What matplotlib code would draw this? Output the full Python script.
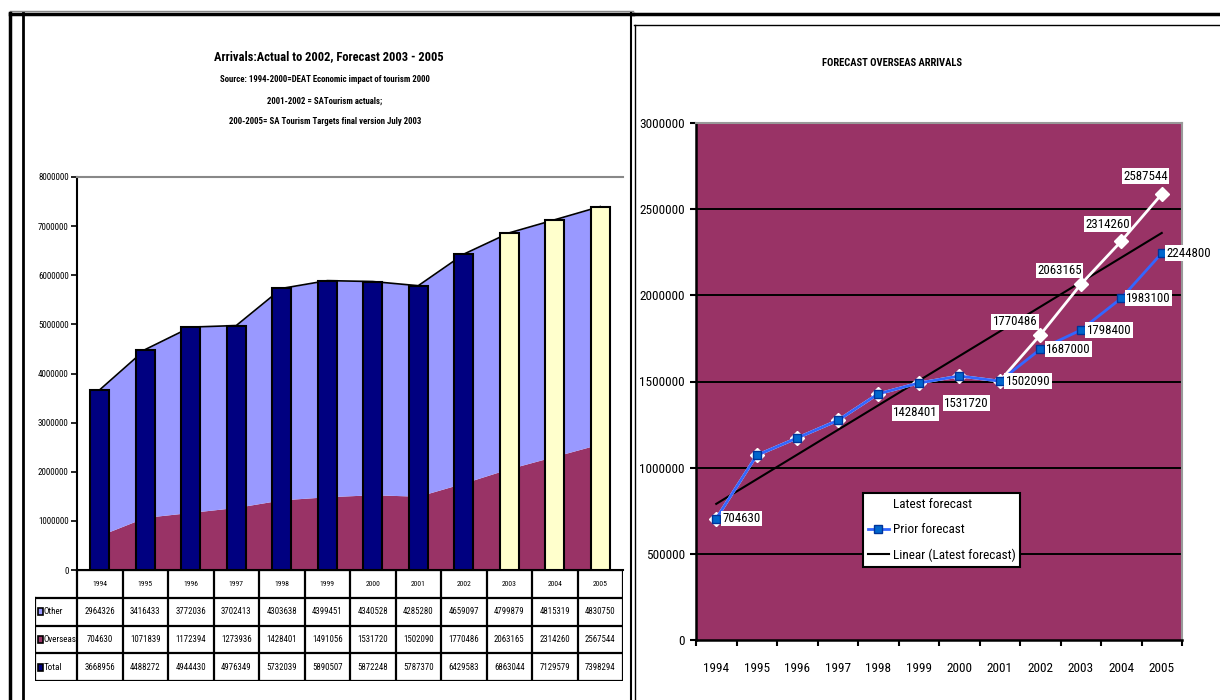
import matplotlib
matplotlib.use("Agg")
import matplotlib.pyplot as plt
import numpy as np
from matplotlib import font_manager
from matplotlib.lines import Line2D
from matplotlib.patches import Rectangle


def narrow_font():
    """Return (family, stretch) of the narrowest sans face available."""
    entries = font_manager.fontManager.ttflist
    names = {e.name for e in entries}
    for fam in ("Liberation Sans Narrow", "Arial Narrow", "Roboto Condensed",
                "Open Sans Condensed", "DejaVu Sans Condensed"):
        if fam in names:
            return fam, "normal"
    for e in entries:
        if e.name == "DejaVu Sans" and "Condensed" in e.fname:
            return "DejaVu Sans", "condensed"
    for e in entries:
        if "Condensed" in e.fname or "Narrow" in e.fname:
            return e.name, e.stretch
    return "Liberation Sans", "normal"


FAMILY, STRETCH = narrow_font()
plt.rcParams["font.family"] = [FAMILY, "DejaVu Sans"]
plt.rcParams["font.stretch"] = STRETCH

# ---- data -------------------------------------------------------------
years = ["1994", "1995", "1996", "1997", "1998", "1999",
         "2000", "2001", "2002", "2003", "2004", "2005"]
other = [2964326, 3416433, 3772036, 3702413, 4303638, 4399451,
         4340528, 4285280, 4659097, 4799879, 4815319, 4830750]
overseas = [704630, 1071839, 1172394, 1273936, 1428401, 1491056,
            1531720, 1502090, 1770486, 2063165, 2314260, 2567544]
total = [3668956, 4488272, 4944430, 4976349, 5732039, 5890507,
         5872248, 5787370, 6429583, 6863044, 7129579, 7398294]
n_actual = 9  # 1994-2002 are actuals, the rest are targets

latest_forecast = [704630, 1071839, 1172394, 1273936, 1428401, 1491056,
                   1531720, 1502090, 1770486, 2063165, 2314260, 2587544]
prior_forecast = [704630, 1071839, 1172394, 1273936, 1428401, 1491056,
                  1531720, 1502090, 1687000, 1798400, 1983100, 2244800]

W, H = 1220, 700
fig = plt.figure(figsize=(W / 100, H / 100), dpi=100)
fig.patch.set_facecolor("white")


def box(x0, y0, x1, y1):
    return [x0 / W, 1 - y1 / H, (x1 - x0) / W, (y1 - y0) / H]


def fline(xs, ys, lw=2.0, color="black"):
    fig.add_artist(Line2D([x / W for x in xs], [1 - y / H for y in ys],
                          lw=lw, color=color, transform=fig.transFigure))


# ---- panel frames --------------------------------------------------------
fline([10, 633], [11, 11], lw=1.0, color="#888888")
fline([10, 633], [13.5, 13.5], lw=2.5)
fline([10, 10], [13, 700], lw=2.5)
fline([23, 23], [13, 700], lw=2.0)
fline([631, 631], [13, 700], lw=1.5)
fline([633, 1220], [14, 14], lw=2.5)
fline([634, 1220], [25, 25], lw=1.0)
fline([634.5, 634.5], [25, 700], lw=1.0)

# ---- left chart: stacked areas + total bars -------------------------------
x = np.arange(len(years))
ov = np.array(overseas)
ot = np.array(other)
tot = np.array(total)

axL = fig.add_axes(box(77, 177, 623, 570))
axL.fill_between(x, 0, ov, color="#993366", lw=0, zorder=1)
axL.fill_between(x, ov, ov + ot, color="#9999FF", lw=0, zorder=1)
axL.plot(x, ov + ot, color="black", lw=1.2, zorder=2)
bar_colors = ["#000080"] * n_actual + ["#FFFFCC"] * (len(years) - n_actual)
axL.bar(x, tot, width=0.42, color=bar_colors, edgecolor="black",
        linewidth=1.5, zorder=3)
axL.set_xlim(-0.5, len(years) - 0.5)
axL.set_ylim(0, 8000000)
axL.set_yticks(np.arange(0, 8000001, 1000000))
axL.set_yticklabels([f"{v:d}" for v in range(0, 8000001, 1000000)],
                    fontsize=6.5)
axL.tick_params(axis="y", direction="out", length=4, width=1.2, pad=2)
axL.set_xticks([])
axL.spines["right"].set_visible(False)
axL.spines["top"].set_color("#888888")
axL.spines["top"].set_linewidth(1.5)
axL.spines["left"].set_linewidth(1.5)
axL.spines["bottom"].set_linewidth(1.5)

fig.text(329 / W, 1 - 57 / H, "Arrivals:Actual to 2002, Forecast 2003 - 2005",
         ha="center", va="center", fontsize=9, fontweight="bold")
fig.text(325 / W, 1 - 79 / H,
         "Source: 1994-2000=DEAT Economic impact of tourism 2000",
         ha="center", va="center", fontsize=6.3, fontweight="bold")
fig.text(325 / W, 1 - 101 / H, "2001-2002 = SATourism actuals;",
         ha="center", va="center", fontsize=6.3, fontweight="bold")
fig.text(325 / W, 1 - 122 / H, "200-2005= SA Tourism Targets final version July 2003",
         ha="center", va="center", fontsize=6.3, fontweight="bold")

# ---- data table under the left chart --------------------------------------
col_w = (623 - 77) / len(years)
xl = -0.5 - (77 - 35) / col_w
axT = fig.add_axes(box(35, 570, 623, 681))
axT.set_xlim(xl, len(years) - 0.5)
axT.set_ylim(4, 0)
axT.axis("off")
lk = dict(color="black", lw=1.6, solid_capstyle="projecting")
axT.plot([-0.5, len(years) - 0.5], [0, 0], **lk)
for r in (1, 2, 3, 4):
    axT.plot([xl, len(years) - 0.5], [r, r], **lk)
for k in range(len(years) + 1):
    axT.plot([-0.5 + k, -0.5 + k], [0, 4], **lk)
axT.plot([xl, xl], [1, 4], **lk)

for i, yr in enumerate(years):
    axT.text(i, 0.5, yr, ha="center", va="center", fontsize=5.5)
rows = [("Other", other, "#9999FF"),
        ("Overseas", overseas, "#993366"),
        ("Total", total, "#000080")]
kw = 5 / col_w
for r, (name, vals, col) in enumerate(rows):
    yc = r + 1.5
    axT.add_patch(Rectangle((xl + 2.5 / col_w, yc - 0.13), kw, 0.26,
                            facecolor=col, edgecolor="black", lw=1.2))
    axT.text(xl + 8.5 / col_w, yc, name, ha="left", va="center", fontsize=6.5)
    for i, v in enumerate(vals):
        axT.text(i, yc, f"{v:d}", ha="center", va="center", fontsize=6.3)

# ---- right chart: forecast lines -------------------------------------------
axR = fig.add_axes(box(696, 123, 1182, 640))
axR.set_facecolor("#993366")
lat = np.array(latest_forecast)
pri = np.array(prior_forecast)
for g in range(500000, 3000000, 500000):
    axR.axhline(g, color="black", lw=1.4, zorder=1)

coef = np.polyfit(x, lat, 1)
axR.plot(x, np.polyval(coef, x), color="black", lw=1.5, zorder=2,
         label="Linear (Latest forecast)")
axR.plot(x, lat, color="white", lw=2, marker="D", markersize=7,
         markerfacecolor="white", markeredgecolor="white", zorder=3,
         label="Latest forecast")
axR.plot(x, pri, color="#3366FF", lw=2, marker="s", markersize=6,
         markerfacecolor="#0066CC", markeredgecolor="#003399", zorder=4,
         label="Prior forecast")

axR.set_xlim(-0.5, len(years) - 0.5)
axR.set_ylim(0, 3000000)
axR.set_yticks(np.arange(0, 3000001, 500000))
axR.set_yticklabels([f"{v:d}" for v in range(0, 3000001, 500000)],
                    fontsize=9.5)
axR.set_xticks(x)
axR.set_xticklabels(years, fontsize=9.5)
axR.set_xticks(np.arange(-0.5, len(years), 1.0), minor=True)
axR.tick_params(axis="x", which="major", length=0, pad=16)
axR.tick_params(axis="x", which="minor", length=4, width=1.5, direction="out")
axR.tick_params(axis="y", direction="out", length=4, width=1.5, pad=4)
for s in ("top", "right"):
    axR.spines[s].set_color("#999999")
    axR.spines[s].set_linewidth(1.5)
for s in ("left", "bottom"):
    axR.spines[s].set_linewidth(1.8)

fig.text(892 / W, 1 - 63 / H, "FORECAST OVERSEAS ARRIVALS",
         ha="center", va="center", fontsize=7.6, fontweight="bold")

lbl = dict(textcoords="offset pixels", fontsize=9.3, zorder=6,
           bbox=dict(boxstyle="square,pad=0.1", facecolor="white",
                     edgecolor="none"), annotation_clip=False)


def tag(i, series, dx, dy, ha, va="center"):
    axR.annotate(f"{series[i]:d}", (i, series[i]), xytext=(dx, dy),
                 ha=ha, va=va, **lbl)


tag(0, latest_forecast, 6, 0, "left")
tag(4, latest_forecast, 15, -19, "left")
tag(6, latest_forecast, 7, -27, "center")
tag(7, latest_forecast, 6, 0, "left")
tag(8, latest_forecast, -3, 13, "right")
tag(9, latest_forecast, 1, 14, "right")
tag(10, latest_forecast, -14, 17, "center")
tag(11, latest_forecast, -16, 18, "center")
tag(8, prior_forecast, 6, 0, "left")
tag(9, prior_forecast, 6, 0, "left")
tag(10, prior_forecast, 5, 0, "left")
tag(11, prior_forecast, 5, 0, "left")

handles, labels = axR.get_legend_handles_labels()
order = [1, 2, 0]
leg = fig.legend([handles[i] for i in order], [labels[i] for i in order],
                 loc="upper left", bbox_to_anchor=(863 / W, 1 - 493 / H),
                 fontsize=9.5, frameon=True, fancybox=False,
                 edgecolor="black", framealpha=1, borderpad=0.35,
                 labelspacing=0.95, handlelength=1.6, handletextpad=0.3,
                 borderaxespad=0)
leg.get_frame().set_linewidth(1.5)

fig.savefig("out.png", dpi=100, facecolor="white")
